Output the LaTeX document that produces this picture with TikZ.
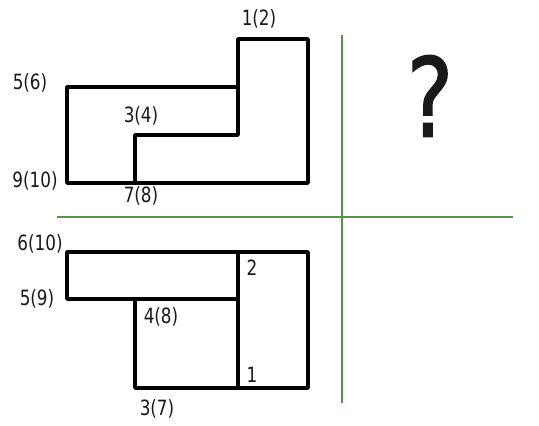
\documentclass[tikz,border=0pt]{standalone}
\usepackage{fontspec}
\setmainfont{DejaVu Sans}[FakeStretch=0.8]
\newfontfamily\qfont{DejaVu Sans}[FakeStretch=0.8, FakeBold=1.2]
\definecolor{axisgreen}{RGB}{84,150,72}
\tikzset{
  edge/.style={line width=3.4pt, line cap=round, line join=round, black},
  axis/.style={line width=2pt, axisgreen},
  lbl/.style={font=\fontsize{21}{23}\selectfont, inner sep=0pt, text=black!90}
}
\begin{document}
\begin{tikzpicture}[x=1pt,y=-1pt]
\useasboundingbox (0,0) rectangle (539,426);
% axes
\draw[axis] (57,217) -- (513,217);
\draw[axis] (342,35) -- (342,403);
% top view
\draw[edge] (238,87) -- (238,39) -- (308,39) -- (308,183) -- (67,183) -- (67,87) -- (238,87) -- (238,135) -- (135,135) -- (135,183);
% front view
\draw[edge] (67,252) rectangle (238,299);
\draw[edge] (238,252) -- (308,252) -- (308,388) -- (135,388) -- (135,299);
\draw[edge] (238,252) -- (238,388);
% labels
\node[lbl] (l12) at (259,19) {1(2)};
\node[lbl] (l56) at (30,83) {5(6)};
\node[lbl] (l34) at (141,116) {3(4)};
\node[lbl] (l910) at (35,181) {9(10)};
\node[lbl] (l78) at (141,196) {7(8)};
\node[lbl] (l610) at (40,244) {6(10)};
\node[lbl] (l59) at (37,299) {5(9)};
\node[lbl] (l48) at (161,317) {4(8)};
\node[lbl] (l2) at (252,268) {2};
\node[lbl] (l1) at (252,375) {1};
\node[lbl] (l37) at (157,409) {3(7)};
\node[inner sep=0pt, font=\qfont\fontsize{110}{110}\selectfont, text=black!90] (q) at (430,96) {?};
\end{tikzpicture}
\end{document}
